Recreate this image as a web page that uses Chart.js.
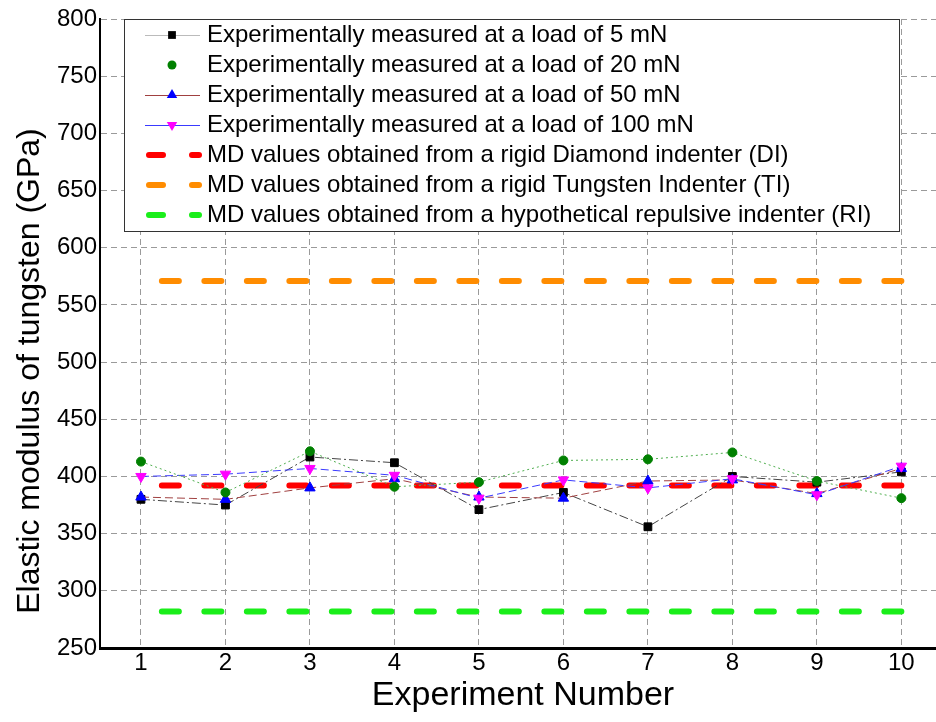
<!DOCTYPE html>
<html>
<head>
<meta charset="utf-8">
<script src="https://cdn.jsdelivr.net/npm/chart.js@4/dist/chart.umd.min.js"></script>
<style>
    html, body { margin: 0; padding: 0; background: #fff; }
    canvas { display: block; }
</style>
</head>
<body>
<canvas id="myChart" width="936" height="722"></canvas>
<script>
"use strict";

var experiments = [1, 2, 3, 4, 5, 6, 7, 8, 9, 10];
var load5   = [380, 375, 417, 412, 371, 386, 356, 400, 395, 404];
var load20  = [413, 386, 422, 391, 395, 414, 415, 421, 396, 381];
var load50  = [382, 380, 390, 398, 382, 381, 396, 397, 385, 407];
var load100 = [400, 402, 407, 401, 381, 397, 390, 398, 384, 409];
var mdDiamond  = 392;
var mdTungsten = 571;
var mdRepulsive = 282;
var yTicks = [250, 300, 350, 400, 450, 500, 550, 600, 650, 700, 750, 800];

var seriesLabels = [
    "Experimentally measured at a load of 5 mN",
    "Experimentally measured at a load of 20 mN",
    "Experimentally measured at a load of 50 mN",
    "Experimentally measured at a load of 100 mN",
    "MD values obtained from a rigid Diamond indenter (DI)",
    "MD values obtained from a rigid Tungsten Indenter (TI)",
    "MD values obtained from a hypothetical repulsive indenter (RI)"
];
var xTitle = "Experiment Number";
var yTitle = "Elastic modulus of tungsten (GPa)";

(function () {
    var font = "'Liberation Sans', Arial, sans-serif";

    function points(values) {
        return experiments.map(function (x, i) {
            return { x: x, y: values[i] };
        });
    }

    // drawn right to left so the dash pattern lines up with the last experiment
    function flat(value) {
        return [
            { x: experiments[experiments.length - 1], y: value },
            { x: experiments[0], y: value }
        ];
    }

    function expSet(label, values, lineColor, dash, pointColor, style, rotation, radius, order) {
        return {
            label: label,
            data: points(values),
            borderColor: lineColor,
            borderWidth: 1,
            borderDash: dash,
            backgroundColor: pointColor,
            pointBackgroundColor: pointColor,
            pointBorderColor: pointColor,
            pointBorderWidth: 1,
            pointStyle: style,
            pointRotation: rotation,
            pointRadius: radius,
            tension: 0,
            order: order,
            legendLine: lineColor
        };
    }

    function mdSet(label, value, color, order) {
        return {
            label: label,
            data: flat(value),
            borderColor: color,
            borderWidth: 6,
            borderDash: [17, 25.5],
            borderDashOffset: 0,
            borderCapStyle: "round",
            pointRadius: 0,
            order: order,
            isMD: true
        };
    }

    var datasets = [
        expSet(seriesLabels[0], load5, "#444444", [9, 3, 2, 3], "#000000", "rect", 0, 5.5, 4),
        expSet(seriesLabels[1], load20, "#4fae4f", [2, 3], "#008000", "circle", 0, 4.5, 1),
        expSet(seriesLabels[2], load50, "#a04040", [8, 4], "#0000ff", "triangle", 0, 6, 3),
        expSet(seriesLabels[3], load100, "#3a3aff", [8, 4], "#ff00ff", "triangle", 180, 6, 2),
        mdSet(seriesLabels[4], mdDiamond, "#ff0000", 7),
        mdSet(seriesLabels[5], mdTungsten, "#ff8c00", 6),
        mdSet(seriesLabels[6], mdRepulsive, "#1aee1a", 5)
    ];
    datasets[0].legendLine = "#bbbbbb";
    datasets[1].legendLine = null;

    function drawMarker(ctx, ds, x, y) {
        var r = ds.pointRadius;
        ctx.fillStyle = ds.pointBackgroundColor;
        ctx.beginPath();
        if (ds.pointStyle === "rect") {
            var s = r * Math.SQRT1_2;
            ctx.rect(x - s, y - s, 2 * s, 2 * s);
        } else if (ds.pointStyle === "circle") {
            ctx.arc(x, y, r, 0, Math.PI * 2);
        } else {
            var dir = ds.pointRotation === 180 ? -1 : 1;
            ctx.moveTo(x, y - dir * r);
            ctx.lineTo(x + r * 0.87, y + dir * r * 0.5);
            ctx.lineTo(x - r * 0.87, y + dir * r * 0.5);
            ctx.closePath();
        }
        ctx.fill();
    }

    // axis titles are a bit off-centre in the original, so draw them by hand
    var titlesPlugin = {
        id: "titlesPlugin",
        afterDraw: function (chart) {
            var ctx = chart.ctx;
            ctx.save();
            ctx.fillStyle = "#000000";
            ctx.textAlign = "center";
            ctx.textBaseline = "middle";
            ctx.font = "34px " + font;
            ctx.fillText(xTitle, 523, 696);
            ctx.translate(30, 371);
            ctx.rotate(-Math.PI / 2);
            ctx.font = "32px " + font;
            ctx.fillText(yTitle, 0, 0);
            ctx.restore();
        }
    };

    var insideLegend = {
        id: "insideLegend",
        afterDraw: function (chart) {
            var ctx = chart.ctx;
            var left = 124, top = 19, width = 775, height = 212;
            var rowTop = 35, rowStep = 30;
            ctx.save();
            ctx.fillStyle = "#ffffff";
            ctx.fillRect(left, top, width, height);
            ctx.strokeStyle = "#333333";
            ctx.lineWidth = 1;
            ctx.strokeRect(left + 0.5, top + 0.5, width, height);

            chart.data.datasets.forEach(function (ds, i) {
                var y = rowTop + i * rowStep;
                if (ds.isMD) {
                    ctx.strokeStyle = ds.borderColor;
                    ctx.lineWidth = 6;
                    ctx.lineCap = "round";
                    ctx.beginPath();
                    ctx.moveTo(149, y);
                    ctx.lineTo(163, y);
                    ctx.moveTo(192, y);
                    ctx.lineTo(199, y);
                    ctx.stroke();
                } else {
                    if (ds.legendLine) {
                        ctx.strokeStyle = ds.legendLine;
                        ctx.lineWidth = 1;
                        ctx.lineCap = "butt";
                        ctx.beginPath();
                        ctx.moveTo(145, y + 0.5);
                        ctx.lineTo(200, y + 0.5);
                        ctx.stroke();
                    }
                    drawMarker(ctx, ds, 172, y);
                }
                ctx.fillStyle = "#000000";
                ctx.font = "24px " + font;
                ctx.textBaseline = "middle";
                ctx.textAlign = "left";
                ctx.fillText(ds.label, 207, y);
            });
            ctx.restore();
        }
    };

    var ctx = document.getElementById("myChart").getContext("2d");
    var chart = new Chart(ctx, {
        type: "line",
        data: { datasets: datasets },
        plugins: [insideLegend, titlesPlugin],
        options: {
            responsive: false,
            animation: false,
            devicePixelRatio: 1,
            layout: {
                autoPadding: false,
                padding: { top: 19, left: 0, right: 0, bottom: 0 }
            },
            plugins: {
                legend: { display: false },
                tooltip: { enabled: false }
            },
            scales: {
                x: {
                    type: "linear",
                    min: 0.515,
                    max: 10.41,
                    afterBuildTicks: function (axis) {
                        axis.ticks = experiments.map(function (v) { return { value: v }; });
                    },
                    afterFit: function (axis) {
                        axis.height = 74;
                        axis.paddingLeft = 0;
                        axis.paddingRight = 0;
                    },
                    grid: { color: "#9a9a9a", lineWidth: 1, drawTicks: false },
                    border: { color: "#000000", width: 3, dash: [6, 4] },
                    ticks: {
                        color: "#000000",
                        padding: 1,
                        maxRotation: 0,
                        autoSkip: false,
                        font: { family: font, size: 24 }
                    },
                    title: { display: false }
                },
                y: {
                    min: 250,
                    max: 800,
                    afterBuildTicks: function (axis) {
                        axis.ticks = yTicks.map(function (v) { return { value: v }; });
                    },
                    afterFit: function (axis) { axis.width = 100; },
                    grid: { color: "#9a9a9a", lineWidth: 1, drawTicks: false },
                    border: { color: "#000000", width: 2, dash: [6, 4] },
                    ticks: {
                        color: "#000000",
                        padding: 3,
                        font: { family: font, size: 24 }
                    },
                    title: { display: false }
                }
            }
        }
    });
})();
</script>
</body>
</html>
